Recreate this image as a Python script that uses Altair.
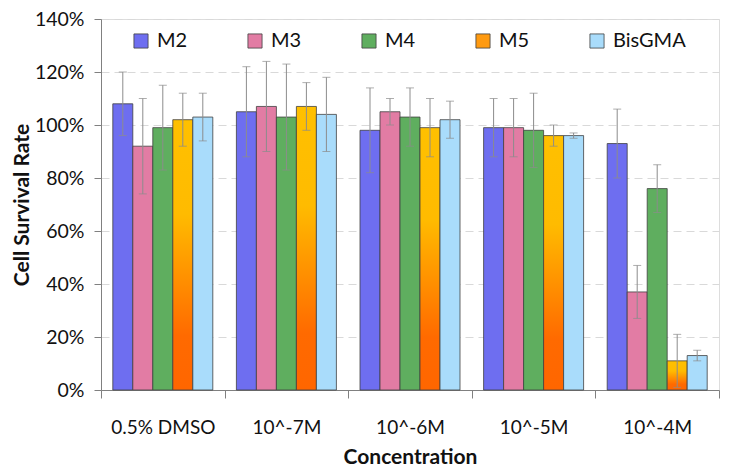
import altair as alt
import pandas as pd

categories = ["0.5% DMSO", "10^-7M", "10^-6M", "10^-5M", "10^-4M"]
series = ["M2", "M3", "M4", "M5", "BisGMA"]

M2 = [108, 105, 98, 99, 93]
M3 = [92, 107, 105, 99, 37]
M4 = [99, 103, 103, 98, 76]
M5 = [102, 107, 99, 96, 11]
BisGMA = [103, 104, 102, 96, 13]

M2_err = [12, 17, 16, 11, 13]
M3_err = [18, 17, 5, 11, 10]
M4_err = [16, 20, 11, 14, 9]
M5_err = [10, 9, 11, 4, 10]
BisGMA_err = [9, 14, 7, 1, 2]

y_ticks = [0, 20, 40, 60, 80, 100, 120, 140]

values = {"M2": M2, "M3": M3, "M4": M4, "M5": M5, "BisGMA": BisGMA}
errors = {"M2": M2_err, "M3": M3_err, "M4": M4_err, "M5": M5_err, "BisGMA": BisGMA_err}

rows = []
for s in series:
    for i, c in enumerate(categories):
        v = values[s][i]
        e = errors[s][i]
        rows.append({"category": c, "series": s, "value": v, "lo": v - e, "hi": v + e})
df = pd.DataFrame(rows)

FONT = "Lato"
colors = ["#6e6ef0", "#e27ca4", "#5fae5f", "#ff9a10", "#a9dcfb"]

m5_gradient = {
    "gradient": "linear",
    "x1": 0, "y1": 0, "x2": 0, "y2": 1,
    "stops": [
        {"offset": 0, "color": "#ffc000"},
        {"offset": 0.35, "color": "#ffbb00"},
        {"offset": 0.8, "color": "#ff6a00"},
        {"offset": 1, "color": "#ff6600"},
    ],
}

x_enc = alt.X(
    "category:N",
    sort=categories,
    scale=alt.Scale(paddingInner=0, paddingOuter=0),
    axis=alt.Axis(
        title="Concentration",
        tickBand="extent",
        tickSize=8,
        tickColor="#808080",
        domainColor="#808080",
        labelAngle=0,
        labelPadding=20,
        labelFont=FONT,
        labelFontSize=19,
        labelColor="#111111",
        titleFont=FONT,
        titleFontSize=21,
        titleFontWeight="bold",
        titleColor="#111111",
        titlePadding=9,
        grid=False,
    ),
)
xoff_enc = alt.XOffset(
    "series:N", sort=series, scale=alt.Scale(paddingInner=0, paddingOuter=0.59)
)
y_scale = alt.Scale(domain=[0, 140], nice=False)

bars = alt.Chart(df).mark_bar(stroke="#404040", strokeWidth=0.8).encode(
    x=x_enc,
    xOffset=xoff_enc,
    y=alt.Y(
        "value:Q",
        scale=y_scale,
        axis=alt.Axis(
            title="Cell Survival Rate",
            values=y_ticks,
            labelExpr="datum.value + '%'",
            tickSize=7,
            tickColor="#808080",
            domainColor="#808080",
            labelPadding=10,
            labelFont=FONT,
            labelFontSize=19.5,
            labelColor="#111111",
            titleFont=FONT,
            titleFontSize=21,
            titleFontWeight="bold",
            titleColor="#111111",
            titlePadding=2,
            gridColor="#d9d9d9",
            gridDash=[8, 5],
        ),
    ),
    fill=alt.condition(
        alt.datum.series == "M5",
        alt.value(m5_gradient),
        alt.Color(
            "series:N",
            sort=series,
            scale=alt.Scale(domain=series, range=colors),
            legend=alt.Legend(
                title=None,
                orient="none",
                legendX=30,
                legendY=12,
                direction="horizontal",
                columns=5,
                gridAlign="all",
                columnPadding=15,
                symbolType="square",
                symbolSize=200,
                symbolStrokeColor="#404040",
                symbolStrokeWidth=0.8,
                symbolOpacity=1,
                labelFont=FONT,
                labelFontSize=20,
                labelColor="#111111",
                labelOffset=6,
            ),
        ),
    ),
)

err_rule = alt.Chart(df).mark_rule(color="#8c8c8c", strokeWidth=1).encode(
    x=alt.X("category:N", sort=categories),
    xOffset=alt.XOffset("series:N", sort=series),
    y=alt.Y("lo:Q", scale=y_scale),
    y2="hi:Q",
)
cap_hi = alt.Chart(df).mark_tick(color="#8c8c8c", size=8, thickness=1).encode(
    x=alt.X("category:N", sort=categories),
    xOffset=alt.XOffset("series:N", sort=series),
    y=alt.Y("hi:Q", scale=y_scale),
)
cap_lo = alt.Chart(df).mark_tick(color="#8c8c8c", size=8, thickness=1).encode(
    x=alt.X("category:N", sort=categories),
    xOffset=alt.XOffset("series:N", sort=series),
    y=alt.Y("lo:Q", scale=y_scale),
)

chart = (
    alt.layer(bars, err_rule, cap_hi, cap_lo)
    .properties(
        width=618,
        height=371,
        autosize=alt.AutoSizeParams(type="none"),
        padding={"left": 93, "top": 11, "right": 2, "bottom": 82},
    )
    .configure_view(stroke="#808080", strokeWidth=1)
    .configure(background="white")
)

chart.save("out.html", embed_options={"renderer": "svg", "actions": False})
